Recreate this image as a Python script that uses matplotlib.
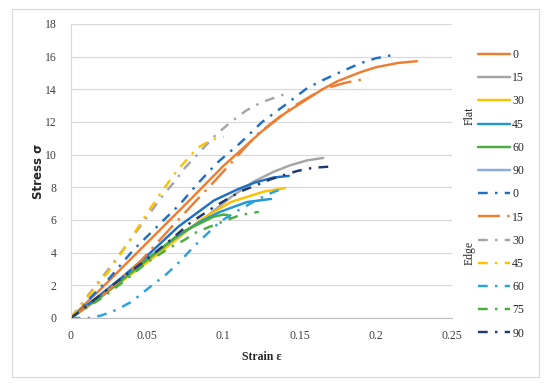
import matplotlib
matplotlib.use("Agg")
import matplotlib.pyplot as plt
from matplotlib.patches import Rectangle

# ---- data (strain, stress) ----
flat_0_strain = [0, 0.02, 0.05, 0.08, 0.10, 0.125, 0.14, 0.15, 0.165, 0.175, 0.19, 0.20, 0.215, 0.227]
flat_0_stress = [0, 1.8, 4.6, 7.4, 9.3, 11.4, 12.5, 13.1, 14.0, 14.5, 15.05, 15.35, 15.62, 15.72]

flat_15_strain = [0, 0.03, 0.05, 0.07, 0.089, 0.105, 0.12, 0.133, 0.144, 0.155, 0.1656]
flat_15_stress = [0, 2.1, 3.6, 5.0, 6.2, 7.4, 8.35, 8.95, 9.35, 9.65, 9.8]

flat_30_strain = [0, 0.03, 0.05, 0.0707, 0.085, 0.105, 0.1266, 0.14]
flat_30_stress = [0, 2.0, 3.4, 4.9, 6.0, 7.1, 7.74, 7.94]

flat_45_strain = [0, 0.03, 0.05, 0.07, 0.085, 0.098, 0.1156, 0.1314]
flat_45_stress = [0, 2.1, 3.6, 5.0, 5.9, 6.5, 7.1, 7.29]

flat_60_strain = [0, 0.02, 0.04, 0.06, 0.0718, 0.0806, 0.0937, 0.10, 0.103, 0.1045]
flat_60_stress = [0, 1.3, 2.8, 4.3, 5.2, 5.6, 6.2, 6.33, 6.3, 6.1]

flat_90_strain = [0, 0.03, 0.05, 0.0707, 0.078, 0.094, 0.11, 0.121, 0.133, 0.143]
flat_90_stress = [0, 2.2, 3.8, 5.6, 6.1, 7.2, 7.9, 8.3, 8.6, 8.7]

edge_0_strain = [0, 0.026, 0.041, 0.072, 0.082, 0.096, 0.111, 0.1255, 0.14, 0.155, 0.165, 0.175, 0.19, 0.20, 0.214]
edge_0_stress = [0, 2.5, 4.16, 7.0, 8.1, 9.5, 10.7, 12.0, 13.0, 14.07, 14.55, 14.98, 15.6, 15.9, 16.15]

edge_15_strain = [0, 0.02, 0.0455, 0.0674, 0.096, 0.115, 0.123, 0.145, 0.165, 0.18, 0.195]
edge_15_stress = [0, 1.3, 3.45, 5.7, 8.55, 10.5, 11.3, 12.9, 14.0, 14.4, 14.68]

edge_30_strain = [0, 0.014, 0.027, 0.06, 0.0674, 0.075, 0.085, 0.095, 0.105, 0.115, 0.125, 0.142]
edge_30_stress = [0, 1.7, 3.25, 7.45, 8.27, 9.2, 10.2, 11.2, 12.0, 12.7, 13.2, 13.76]

edge_45_strain = [0, 0.026, 0.037, 0.048, 0.059, 0.07, 0.083, 0.092, 0.1003]
edge_45_stress = [0, 3.0, 4.5, 6.1, 7.65, 9.06, 10.4, 10.9, 11.1]

edge_60_strain = [0, 0.012, 0.02, 0.03, 0.04, 0.052, 0.063, 0.072, 0.081, 0.09, 0.098, 0.11, 0.12, 0.13, 0.141]
edge_60_stress = [0, 0.0, 0.15, 0.5, 1.0, 1.9, 2.7, 3.5, 4.4, 5.2, 5.9, 6.6, 7.12, 7.6, 8.0]

edge_75_strain = [0, 0.02, 0.035, 0.05, 0.065, 0.075, 0.081, 0.0915, 0.111, 0.1233]
edge_75_stress = [0, 1.2, 2.25, 3.4, 4.3, 4.8, 5.19, 5.6, 6.3, 6.5]

edge_90_strain = [0, 0.01, 0.03, 0.05, 0.067, 0.078, 0.096, 0.111, 0.131, 0.1485, 0.159, 0.1704]
edge_90_stress = [0, 0.7, 2.2, 3.6, 4.9, 5.8, 6.92, 7.73, 8.49, 9.0, 9.2, 9.27]

x_ticks = [0, 0.05, 0.1, 0.15, 0.2, 0.25]
x_tick_labels = ["0", "0.05", "0.1", "0.15", "0.2", "0.25"]
y_ticks = [0, 2, 4, 6, 8, 10, 12, 14, 16, 18]

# ---- styles ----
ORANGE = "#ED7D31"
GRAY = "#A5A5A5"
GOLD = "#FFC000"
BLUE = "#2196D8"
GREEN = "#4AAE3F"
LAVENDER = "#8FAADC"
DBLUE = "#1F6FC4"
LBLUE = "#29A3E0"
NAVY = "#1F3B70"

DASH_DOT = (4, 3, 1, 3)
LONG_DASH_DOT = (9, 3, 1, 3)
LW = 1.75

SERIF = "Liberation Serif"

fig = plt.figure(figsize=(5.5, 3.87), dpi=100)
ax = fig.add_axes([0.1285, 0.1783, 0.6933, 0.7597])

series = [
    (flat_0_strain, flat_0_stress, ORANGE, None, "0"),
    (flat_15_strain, flat_15_stress, GRAY, None, "15"),
    (flat_30_strain, flat_30_stress, GOLD, None, "30"),
    (flat_45_strain, flat_45_stress, BLUE, None, "45"),
    (flat_60_strain, flat_60_stress, GREEN, None, "60"),
    (flat_90_strain, flat_90_stress, DBLUE, None, "90"),
    (edge_0_strain, edge_0_stress, DBLUE, DASH_DOT, "0"),
    (edge_15_strain, edge_15_stress, ORANGE, LONG_DASH_DOT, "15"),
    (edge_30_strain, edge_30_stress, GRAY, DASH_DOT, "30"),
    (edge_45_strain, edge_45_stress, GOLD, DASH_DOT, "45"),
    (edge_60_strain, edge_60_stress, LBLUE, DASH_DOT, "60"),
    (edge_75_strain, edge_75_stress, GREEN, DASH_DOT, "75"),
    (edge_90_strain, edge_90_stress, NAVY, DASH_DOT, "90"),
]

handles = []
for xs, ys, col, dash, lab in series:
    if dash is None:
        ln, = ax.plot(xs, ys, color=col, lw=LW, label=lab, solid_capstyle="round",
                      solid_joinstyle="round")
    else:
        ln, = ax.plot(xs, ys, color=col, lw=LW, label=lab, dashes=dash)
    handles.append(ln)

ax.set_xlim(0, 0.25)
ax.set_ylim(0, 18)
ax.set_xticks(x_ticks)
ax.set_xticklabels(x_tick_labels)
ax.set_yticks(y_ticks)
ax.tick_params(length=0, labelsize=8.5, colors="#404040")
ax.tick_params(axis="x", pad=9)
ax.tick_params(axis="y", pad=10)
for t in ax.get_xticklabels() + ax.get_yticklabels():
    t.set_fontfamily(SERIF)

ax.grid(axis="y", color="#D9D9D9", lw=0.9)
ax.set_axisbelow(True)
for s in ["top", "right"]:
    ax.spines[s].set_visible(False)
ax.spines["left"].set_color("#D9D9D9")
ax.spines["bottom"].set_color("#BFBFBF")

ax.set_xlabel("Strain ε", fontsize=8.5, fontweight="bold", family=SERIF, color="#262626", labelpad=6)
ax.set_ylabel("Stress σ", fontsize=8.5, fontweight="bold", family="DejaVu Sans", color="#262626", labelpad=0)

leg = ax.legend(handles=handles, loc="upper left", bbox_to_anchor=(478 / 550, 1 - 49 / 387),
                bbox_transform=fig.transFigure, frameon=False,
                handlelength=2.7, handletextpad=0.2, labelspacing=0.95, borderpad=0,
                borderaxespad=0, prop={"family": SERIF, "size": 8.5})
leg.legend_handles[5].set_color(LAVENDER)
for t in leg.get_texts():
    t.set_color("#262626")

fig.text(470 / 550, 1 - 116 / 387, "Flat", rotation=90, ha="center", va="center",
         family=SERIF, fontsize=8.5, color="#262626")
fig.text(470 / 550, 1 - 253 / 387, "Edge", rotation=90, ha="center", va="center",
         family=SERIF, fontsize=8.5, color="#262626")

fig.patches.append(Rectangle((12 / 550, 1 - 377 / 387), 527 / 550, 368 / 387,
                             transform=fig.transFigure, fill=False, ec="#D9D9D9", lw=0.8))

fig.savefig("out.png", dpi=100, facecolor="white")
